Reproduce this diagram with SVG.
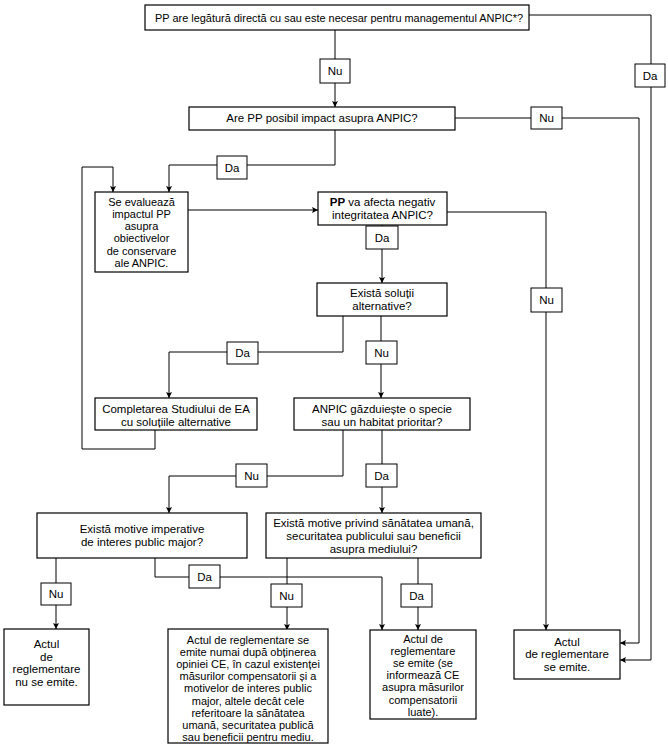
<svg xmlns="http://www.w3.org/2000/svg" width="668" height="745" viewBox="0 0 668 745">
<style>
.box{fill:#fff;stroke:#000;stroke-width:1.2}
.lbl{fill:#fff;stroke:#000;stroke-width:1}
.ln{fill:none;stroke:#000;stroke-width:1}
text{font-family:"Liberation Sans",Arial,sans-serif;font-size:11.5px;fill:#000;text-anchor:middle}
.sm text{font-size:11px}
</style>
<defs>
<marker id="ah" viewBox="0 0 10 10" refX="10" refY="5" markerWidth="8" markerHeight="6" markerUnits="userSpaceOnUse" orient="auto">
<path d="M0,0 L10,5 L0,10 L2,5 Z" fill="#000"/>
</marker>
</defs>
<rect width="668" height="745" fill="#fff"/>
<g id="connectors">
<path class="ln" d="M335,30 V107" marker-end="url(#ah)"/>
<path class="ln" d="M335,130 V165 H169 V192" marker-end="url(#ah)"/>
<path class="ln" d="M455,118 H639 V643 H620" marker-end="url(#ah)"/>
<path class="ln" d="M529,15 H651 V660 H620" marker-end="url(#ah)"/>
<path class="ln" d="M188,210 H318" marker-end="url(#ah)"/>
<path class="ln" d="M447,212 H546 V630" marker-end="url(#ah)"/>
<path class="ln" d="M382,225 V283" marker-end="url(#ah)"/>
<path class="ln" d="M343,316 V352 H169 V398" marker-end="url(#ah)"/>
<path class="ln" d="M381,316 V398" marker-end="url(#ah)"/>
<path class="ln" d="M155,430 V449 H82 V167 H113 V192" marker-end="url(#ah)"/>
<path class="ln" d="M343,430 V476 H169 V513" marker-end="url(#ah)"/>
<path class="ln" d="M382,430 V513" marker-end="url(#ah)"/>
<path class="ln" d="M56,558 V629" marker-end="url(#ah)"/>
<path class="ln" d="M155,558 V577 H382 V630" marker-end="url(#ah)"/>
<path class="ln" d="M287,558 V630" marker-end="url(#ah)"/>
<path class="ln" d="M418,558 V630" marker-end="url(#ah)"/>
<g id="labels">
<rect class="lbl" x="320" y="59" width="30" height="24"/><text x="335" y="75">Nu</text>
<rect class="lbl" x="635" y="64" width="30" height="23"/><text x="650" y="80">Da</text>
<rect class="lbl" x="531" y="107" width="31" height="22"/><text x="546.5" y="122">Nu</text>
<rect class="lbl" x="217" y="156" width="30" height="23"/><text x="232" y="172">Da</text>
<rect class="lbl" x="366" y="226" width="32" height="23"/><text x="382" y="242">Da</text>
<rect class="lbl" x="531" y="288" width="31" height="24"/><text x="546.5" y="304">Nu</text>
<rect class="lbl" x="227" y="342" width="31" height="22"/><text x="242.5" y="357">Da</text>
<rect class="lbl" x="366" y="341" width="31" height="23"/><text x="381.5" y="357">Nu</text>
<rect class="lbl" x="236" y="464" width="31" height="23"/><text x="251.5" y="480">Nu</text>
<rect class="lbl" x="366" y="464" width="31" height="23"/><text x="381.5" y="480">Da</text>
<rect class="lbl" x="189" y="565" width="31" height="23"/><text x="204.5" y="581">Da</text>
<rect class="lbl" x="41" y="583" width="30" height="22"/><text x="56" y="598">Nu</text>
<rect class="lbl" x="271" y="584" width="31" height="23"/><text x="286.5" y="600">Nu</text>
<rect class="lbl" x="401" y="584" width="31" height="23"/><text x="416.5" y="600">Da</text>
</g>
</g>
<g id="n1">
<rect class="box" x="145" y="5" width="384" height="25"/>
<text x="339" y="22" textLength="368" lengthAdjust="spacingAndGlyphs">PP are legătură directă cu sau este necesar pentru managementul ANPIC*?</text>
</g>
<g id="n2">
<rect class="box" x="189" y="107" width="266" height="23"/>
<text x="322" y="122">Are PP posibil impact asupra ANPIC?</text>
</g>
<g id="n3" class="sm">
<rect class="box" x="95" y="192" width="93" height="80"/>
<text x="141.5" y="205.5">Se evaluează</text>
<text x="141.5" y="217.8">impactul PP</text>
<text x="141.5" y="230.1">asupra</text>
<text x="141.5" y="242.4">obiectivelor</text>
<text x="141.5" y="254.7">de conservare</text>
<text x="141.5" y="267">ale ANPIC.</text>
</g>
<g id="n4">
<rect class="box" x="318" y="192" width="129" height="33"/>
<text x="382.5" y="205.5"><tspan font-weight="bold">PP</tspan> va afecta negativ</text>
<text x="382.5" y="219">integritatea ANPIC?</text>
</g>
<g id="n5">
<rect class="box" x="317" y="283" width="130" height="33"/>
<text x="382" y="296.5">Există soluții</text>
<text x="382" y="310">alternative?</text>
</g>
<g id="n6">
<rect class="box" x="95" y="398" width="162" height="32"/>
<text x="176" y="413">Completarea Studiului de EA</text>
<text x="176" y="426">cu soluțiile alternative</text>
</g>
<g id="n7">
<rect class="box" x="294" y="398" width="176" height="32"/>
<text x="382" y="413">ANPIC găzduiește o specie</text>
<text x="382" y="426">sau un habitat prioritar?</text>
</g>
<g id="n8">
<rect class="box" x="37" y="513" width="210" height="45"/>
<text x="142" y="533">Există motive imperative</text>
<text x="142" y="546">de interes public major?</text>
</g>
<g id="n9">
<rect class="box" x="266" y="513" width="215" height="45"/>
<text x="373.5" y="526.5">Există motive privind sănătatea umană,</text>
<text x="373.5" y="539.5">securitatea publicului sau beneficii</text>
<text x="373.5" y="552.5">asupra mediului?</text>
</g>
<g id="n10">
<rect class="box" x="4" y="629" width="85" height="76"/>
<text x="46.5" y="648">Actul</text>
<text x="46.5" y="660.7">de</text>
<text x="46.5" y="673.4">reglementare</text>
<text x="46.5" y="686.1">nu se emite.</text>
</g>
<g id="n11" class="sm">
<rect class="box" x="168" y="629" width="160" height="114"/>
<text x="248" y="643.5">Actul de reglementare se</text>
<text x="248" y="655.7">emite numai după obținerea</text>
<text x="248" y="667.9">opiniei CE, în cazul existenței</text>
<text x="248" y="680.1">măsurilor compensatorii și a</text>
<text x="248" y="692.3">motivelor de interes public</text>
<text x="248" y="704.5">major, altele decât cele</text>
<text x="248" y="716.7">referitoare la sănătatea</text>
<text x="248" y="728.9">umană, securitatea publică</text>
<text x="248" y="741.1">sau beneficii pentru mediu.</text>
</g>
<g id="n12" class="sm">
<rect class="box" x="370" y="630" width="106" height="89"/>
<text x="423" y="642.5">Actul de</text>
<text x="423" y="654.7">reglementare</text>
<text x="423" y="666.9">se emite (se</text>
<text x="423" y="679.1">informează CE</text>
<text x="423" y="691.3">asupra măsurilor</text>
<text x="423" y="703.5">compensatorii</text>
<text x="423" y="715.7">luate).</text>
</g>
<g id="n13">
<rect class="box" x="514" y="630" width="106" height="49"/>
<text x="567" y="645.5">Actul</text>
<text x="567" y="658">de reglementare</text>
<text x="567" y="670.5">se emite.</text>
</g>
</svg>
